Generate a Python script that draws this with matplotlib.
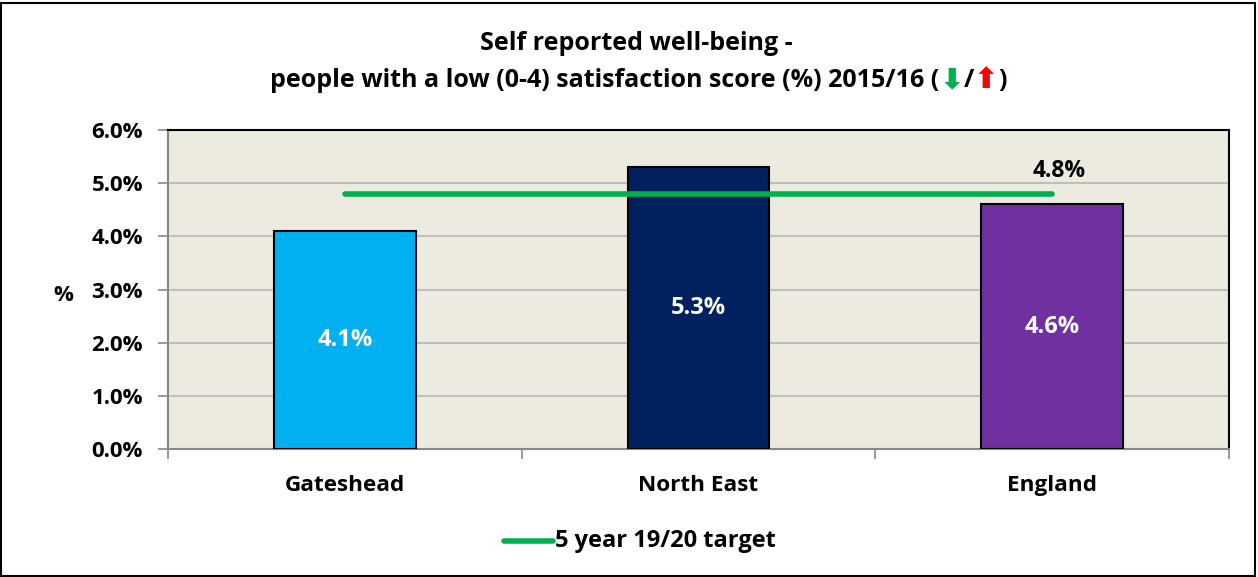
import matplotlib.pyplot as plt
from matplotlib.patches import Rectangle
from matplotlib.lines import Line2D
from matplotlib.ticker import FuncFormatter

areas = ['Gateshead', 'North East', 'England']
values = [4.1, 5.3, 4.6]
bar_colors = ['#00B0F0', '#002060', '#7030A0']
target = 4.8
yticks = [0, 1, 2, 3, 4, 5, 6]

FONT = ['Open Sans', 'DejaVu Sans']
plt.rcParams['font.family'] = FONT
plt.rcParams['font.weight'] = 'bold'

fig = plt.figure(figsize=(12.58, 5.77), dpi=100)
ax = fig.add_axes([0.1335, 0.2218, 0.8435, 0.5529])
ax.set_facecolor('#EDEAE0')

x = range(len(areas))
bars = ax.bar(x, values, width=0.4, color=bar_colors, edgecolor='black', linewidth=1.5, zorder=3)
for b, v in zip(bars, values):
    ax.text(b.get_x() + b.get_width() / 2, v / 2, f'{v:.1f}%', ha='center', va='center',
            color='white', fontsize=17, fontweight='bold', zorder=4)

# target line runs between first and last category centres
ax.plot([0, len(areas) - 1], [target, target], color='#00B050', lw=4, solid_capstyle='round', zorder=4)
ax.text(len(areas) - 1 + 0.02, target + 0.43, f'{target:.1f}%', ha='center', va='center',
        fontsize=16.5, fontweight='bold', zorder=4)

ax.set_xlim(-0.5, len(areas) - 0.5)
ax.set_ylim(0, 6)
ax.set_yticks(yticks)
ax.yaxis.set_major_formatter(FuncFormatter(lambda v, p: f'{v:.1f}%'))
ax.grid(axis='y', color='#BFBFBF', lw=1.5, zorder=1)
ax.set_axisbelow(True)

ax.set_xticks(list(x))
ax.set_xticklabels(areas)
ax.set_xticks([-0.5, 0.5, 1.5, 2.5], minor=True)
ax.tick_params(axis='x', which='major', length=0, pad=19, labelsize=16.2)
ax.tick_params(axis='x', which='minor', length=7, width=1.2, color='#888888')
ax.tick_params(axis='y', length=7, width=1.2, color='#888888', labelsize=16, pad=11)
for lab in ax.get_xticklabels() + ax.get_yticklabels():
    lab.set_fontweight('bold')

for s in ['left', 'bottom']:
    ax.spines[s].set_color('#888888')
    ax.spines[s].set_linewidth(1.5)
for s in ['top', 'right']:
    ax.spines[s].set_color('black')
    ax.spines[s].set_linewidth(1.5)

fig.text(0.05, 0.488, '%', ha='center', va='center', fontsize=16, fontweight='bold')

# title, second line ends with coloured direction arrows
fig.text(0.506, 0.925, 'Self reported well-being -', ha='center', va='center', fontsize=18, fontweight='bold')
line2 = 'people with a low (0-4) satisfaction score (%) 2015/16 ('
parts = [(line2, 'black', FONT, 18), ('\u2B07', '#00B050', ['DejaVu Sans'], 21), ('/', 'black', FONT, 18),
         ('\u2B06', '#FF0000', ['DejaVu Sans'], 21), (')', 'black', FONT, 18)]
fig.canvas.draw()
renderer = fig.canvas.get_renderer()
texts = []
for s, c, fam, size in parts:
    t = fig.text(0, 0.861, s, ha='left', va='center', fontsize=size, fontweight='bold', color=c,
                 family=fam)
    texts.append(t)
widths = [t.get_window_extent(renderer).width / fig.bbox.width for t in texts]
xpos = 0.5075 - sum(widths) / 2
for t, w in zip(texts, widths):
    t.set_x(xpos)
    xpos += w

# legend at the bottom
fig.add_artist(Line2D([0.4006, 0.4396], [0.0624, 0.0624], color='#00B050', lw=4, solid_capstyle='round'))
fig.text(0.441, 0.0624, '5 year 19/20 target', ha='left', va='center', fontsize=17, fontweight='bold')

fig.add_artist(Rectangle((0.001, 0.001), 0.997, 0.994, transform=fig.transFigure,
                         fill=False, edgecolor='black', lw=1.5))

fig.savefig('out.png', dpi=100)
